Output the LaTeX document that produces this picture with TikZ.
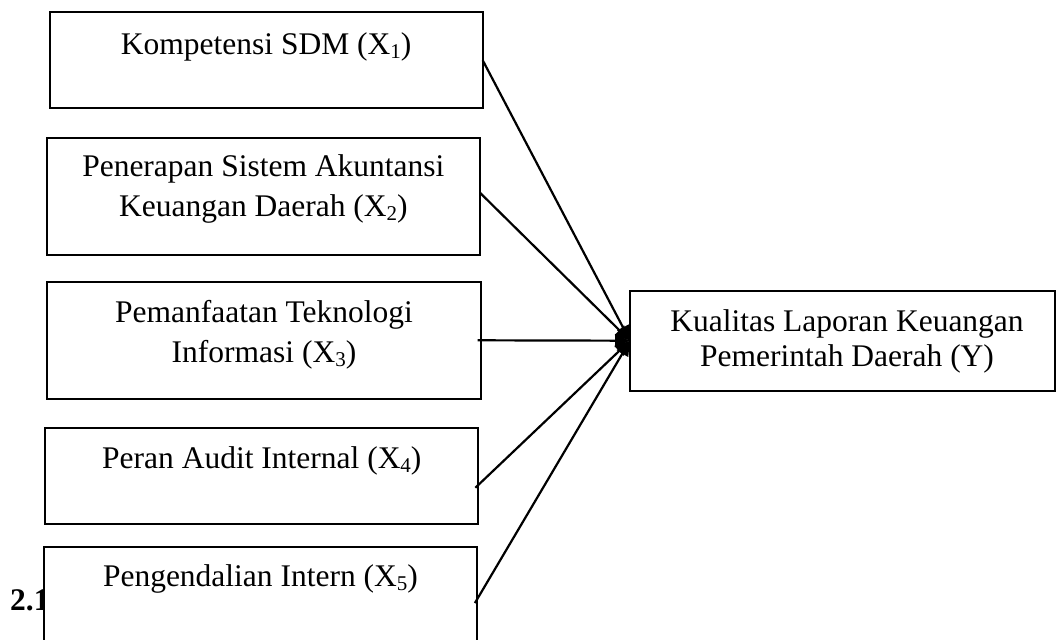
\documentclass[tikz,border=0pt]{standalone}
\usepackage{fontspec}
\setmainfont{Liberation Serif}
\usetikzlibrary{arrows.meta}
\newcommand\subx[1]{\raisebox{-4pt}{\fontsize{21}{21}\selectfont #1}}
\begin{document}
\begin{tikzpicture}[x=1pt,y=-1pt,
  box/.style={draw,line width=2pt,fill=white,inner sep=0pt,outer sep=0pt},
  lbl/.style={anchor=base,inner sep=0pt,font=\fontsize{31.5}{38}\selectfont},
  conn/.style={line width=2.2pt,-{Triangle[length=15pt,width=13pt]}}]
\useasboundingbox (0,0) rectangle (1056,639);
\clip (0,0) rectangle (1056,639);
\node[lbl, anchor=base west, font=\fontsize{31.5}{38}\selectfont\bfseries] (num) at (10,610) {2.1};
% boxes
\node[box, minimum width=433pt, minimum height=95.5pt] (b1) at (266.2,60.25) {};
\node[box, minimum width=433.3pt, minimum height=116.6pt] (b2) at (263.35,196.3) {};
\node[box, minimum width=433.4pt, minimum height=117pt] (b3) at (264,340.3) {};
\node[box, minimum width=433.1pt, minimum height=95.6pt] (b4) at (261.85,475.7) {};
\node[box, minimum width=433.9pt, minimum height=98pt] (b5) at (260.45,596) {};
\node[box, minimum width=424.5pt, minimum height=100pt] (y) at (842.25,340.7) {};
% texts
\node[lbl] (t1) at (266.2,54.1) {Kompetensi SDM (X\subx{1})};
\node[lbl] (t2a) at (263.35,176.7) {Penerapan Sistem Akuntansi};
\node[lbl] (t2b) at (263.35,216) {Keuangan Daerah (X\subx{2})};
\node[lbl] (t3a) at (264,322.4) {Pemanfaatan Teknologi};
\node[lbl] (t3b) at (264,362) {Informasi (X\subx{3})};
\node[lbl] (t4) at (261.85,468.8) {Peran Audit Internal (X\subx{4})};
\node[lbl] (t5) at (260.45,586.7) {Pengendalian Intern (X\subx{5})};
\node[lbl] (tya) at (847,331.7) {Kualitas Laporan Keuangan};
\node[lbl] (tyb) at (847,366.7) {Pemerintah Daerah (Y)};
% connectors
\draw[conn] (b1.east) -- (y.west);
\draw[conn] ([yshift=3.5pt]b2.east) -- (y.west);
\draw[conn] ([xshift=-3pt]b3.east) -- (y.west);
\draw[conn] ([xshift=-3pt,yshift=-12pt]b4.east) -- (y.west);
\draw[conn] ([xshift=-2.5pt,yshift=-7pt]b5.east) -- (y.west);
\end{tikzpicture}
\end{document}
